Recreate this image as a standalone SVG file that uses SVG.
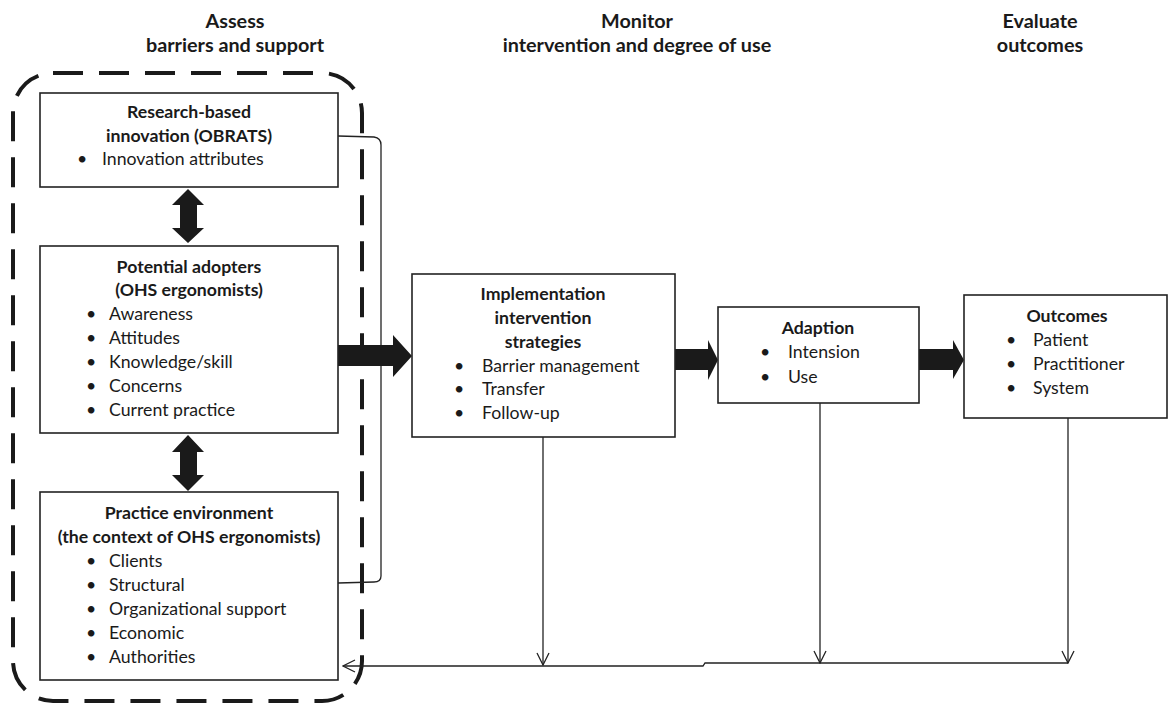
<svg xmlns="http://www.w3.org/2000/svg" width="1169" height="704" viewBox="0 0 1169 704">
<defs>
<style>
text{font-family:Lato,"Open Sans","Liberation Sans",sans-serif;fill:#1a1a1a;font-size:17.7px}
.h{font-size:19.8px}
.b{font-weight:bold}
.m{text-anchor:middle}
.box{fill:#fff;stroke:#222;stroke-width:1.6}
.thin{fill:none;stroke:#222;stroke-width:1.3}
.fat{fill:#1a1a1a;stroke:none}
.dash{fill:none;stroke:#1a1a1a;stroke-width:4;stroke-dasharray:30 16}
</style>
<marker id="open" viewBox="0 0 14 14" refX="13" refY="7" markerWidth="14" markerHeight="14" markerUnits="userSpaceOnUse" orient="auto">
<path d="M1,1 L13,7 L1,13" fill="none" stroke="#222" stroke-width="1.3"/>
</marker>
</defs>
<rect width="1169" height="704" fill="#fff"/>

<g id="headers">
<text class="h b m" x="235" y="28">Assess</text>
<text class="h b m" x="235" y="52">barriers and support</text>
<text class="h b m" x="637" y="28">Monitor</text>
<text class="h b m" x="637" y="52">intervention and degree of use</text>
<text class="h b m" x="1040" y="28">Evaluate</text>
<text class="h b m" x="1040" y="52">outcomes</text>
</g>

<g id="assess-group">
<rect class="dash" x="13" y="73" width="349" height="628" rx="40" ry="40"/>
</g>

<g id="connectors">
<path class="thin" d="M338,136 L374,137 Q381,138 381,145 L381,576 Q381,582 374,582 L338,583"/>
<path class="fat" d="M188,189 L204,205 L197,205 L197,228 L204,228 L188,243 L172,228 L180,228 L180,205 L172,205 Z"/>
<path class="fat" d="M188,435 L204,452 L197,452 L197,475 L204,475 L188,491 L172,475 L180,475 L180,452 L172,452 Z"/>
<path class="fat" d="M338,345 L393,345 L393,335 L412,356 L393,377 L393,366 L338,366 Z"/>
<path class="fat" d="M675,349 L708,349 L708,340 L718,360 L708,380 L708,370 L675,370 Z"/>
<path class="fat" d="M919,349 L953,349 L953,340 L964,360 L953,379 L953,370 L919,370 Z"/>
<line class="thin" x1="543" y1="437" x2="543" y2="665" marker-end="url(#open)"/>
<line class="thin" x1="820" y1="403" x2="820" y2="663" marker-end="url(#open)"/>
<line class="thin" x1="1068" y1="418" x2="1068" y2="663" marker-end="url(#open)"/>
<path class="thin" d="M1068,663 L705,663 L703,666 L343,666" marker-end="url(#open)"/>
</g>

<g id="node-innovation">
<rect class="box" x="40" y="93" width="298" height="94"/>
<text class="b m" x="189" y="118">Research-based</text>
<text class="b m" x="189" y="142">innovation (OBRATS)</text>
<text x="77" y="165">•</text>
<text x="102" y="165">Innovation attributes</text>
</g>

<g id="node-adopters">
<rect class="box" x="40" y="246" width="298" height="187"/>
<text class="b m" x="189" y="273">Potential adopters</text>
<text class="b m" x="189" y="296">(OHS ergonomists)</text>
<text x="86" y="320">•</text><text x="109" y="320">Awareness</text>
<text x="86" y="344">•</text><text x="109" y="344">Attitudes</text>
<text x="86" y="368">•</text><text x="109" y="368">Knowledge/skill</text>
<text x="86" y="392">•</text><text x="109" y="392">Concerns</text>
<text x="86" y="416">•</text><text x="109" y="416">Current practice</text>
</g>

<g id="node-environment">
<rect class="box" x="40" y="492" width="298" height="188"/>
<text class="b m" x="189" y="519">Practice environment</text>
<text class="b m" x="189" y="543">(the context of OHS ergonomists)</text>
<text x="86" y="567">•</text><text x="109" y="567">Clients</text>
<text x="86" y="591">•</text><text x="109" y="591">Structural</text>
<text x="86" y="615">•</text><text x="109" y="615">Organizational support</text>
<text x="86" y="639">•</text><text x="109" y="639">Economic</text>
<text x="86" y="663">•</text><text x="109" y="663">Authorities</text>
</g>

<g id="node-implementation">
<rect class="box" x="412" y="274" width="263" height="163"/>
<text class="b m" x="543" y="300">Implementation</text>
<text class="b m" x="543" y="324">intervention</text>
<text class="b m" x="543" y="348">strategies</text>
<text x="454" y="372">•</text><text x="482" y="372">Barrier management</text>
<text x="454" y="395">•</text><text x="482" y="395">Transfer</text>
<text x="454" y="419">•</text><text x="482" y="419">Follow-up</text>
</g>

<g id="node-adaption">
<rect class="box" x="718" y="307" width="201" height="96"/>
<text class="b m" x="818" y="334">Adaption</text>
<text x="760" y="358">•</text><text x="788" y="358">Intension</text>
<text x="760" y="383">•</text><text x="788" y="383">Use</text>
</g>

<g id="node-outcomes">
<rect class="box" x="964" y="295" width="203" height="123"/>
<text class="b m" x="1067" y="322">Outcomes</text>
<text x="1006" y="346">•</text><text x="1033" y="346">Patient</text>
<text x="1006" y="370">•</text><text x="1033" y="370">Practitioner</text>
<text x="1006" y="394">•</text><text x="1033" y="394">System</text>
</g>
</svg>
